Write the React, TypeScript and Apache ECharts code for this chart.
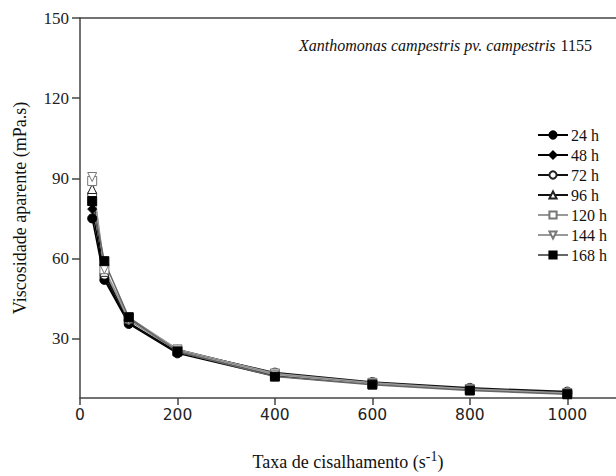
import React, { useEffect, useRef } from "react";
import * as echarts from "echarts";

const shearRates = [25, 50, 100, 200, 400, 600, 800, 1000];
const v24 = [75, 52, 35.5, 24.5, 16, 13, 11, 9.5];
const v48 = [78.5, 53, 36, 25, 16.5, 13.2, 11, 9.6];
const v72 = [84, 54, 37, 25.6, 17.3, 13.8, 11.6, 10.2];
const v96 = [86, 55, 37.5, 26, 17, 13.5, 11.3, 9.9];
const v120 = [89, 56, 38, 26, 17, 13.5, 11.2, 9.7];
const v144 = [90.5, 56, 37, 25.5, 16.5, 13, 11, 9.4];
const v168 = [81.5, 59, 38, 25.2, 15.8, 12.8, 10.6, 9.2];
const xTicks = [0, 200, 400, 600, 800, 1000];
const yTicks = [30, 60, 90, 120, 150];

const seriesDefs = [
  { name: "24 h", data: v24, symbol: "circle", fill: "#000", stroke: "#000", line: "#000" },
  { name: "48 h", data: v48, symbol: "diamond", fill: "#000", stroke: "#000", line: "#000" },
  { name: "72 h", data: v72, symbol: "circle", fill: "#fff", stroke: "#222", line: "#111" },
  { name: "96 h", data: v96, symbol: "triangle", fill: "#fff", stroke: "#222", line: "#111" },
  { name: "120 h", data: v120, symbol: "rect", fill: "#fff", stroke: "#777", line: "#999" },
  { name: "144 h", data: v144, symbol: "path://M0,0 L10,0 L5,10 Z", fill: "#fff", stroke: "#777", line: "#999" },
  { name: "168 h", data: v168, symbol: "rect", fill: "#000", stroke: "#000", line: "#666" },
];

const SERIF = "'Liberation Serif', 'Times New Roman', serif";

export default function App() {
  const ref = useRef<HTMLDivElement>(null);
  useEffect(() => {
    if (!ref.current) return;
    const chart = echarts.init(ref.current, null, { renderer: "svg" });
    const axisColor = "#444";
    chart.setOption({
      animation: false,
      backgroundColor: "#fff",
      grid: { left: 80, top: 18, right: -6, bottom: 74, containLabel: false },
      title: {
        text: "{i|Xanthomonas campestris pv. campestris} {n|1155}",
        right: 19,
        top: 31,
        textStyle: {
          fontWeight: "normal",
          rich: {
            i: { fontFamily: SERIF, fontStyle: "italic", fontWeight: "normal", fontSize: 16, color: "#111" },
            n: { fontFamily: SERIF, fontWeight: "normal", fontSize: 16, color: "#111" },
          },
        },
      },
      legend: {
        orient: "vertical",
        left: 532,
        top: 122,
        itemWidth: 30,
        itemHeight: 9,
        itemGap: 4,
        textStyle: { fontFamily: SERIF, fontSize: 16, color: "#111", lineHeight: 15, padding: [0, 0, 0, -2] },
        data: seriesDefs.map((s) => s.name),
      },
      xAxis: [
        {
          type: "value",
          min: 0,
          max: 1100,
          name: "{a|Taxa de cisalhamento (s}{s|-1}{a|)}",
          nameLocation: "middle",
          nameGap: 51,
          nameTextStyle: {
            rich: {
              a: { fontFamily: SERIF, fontSize: 18, color: "#111" },
              s: { fontFamily: SERIF, fontSize: 14, color: "#111", verticalAlign: "top", padding: [0, 0, 12, 0] },
            },
          },
          axisLine: { show: true, lineStyle: { color: axisColor, width: 1.5 } },
          axisTick: { show: true, length: 7, customValues: xTicks, lineStyle: { color: axisColor, width: 1.5 } },
          axisLabel: {
            customValues: xTicks,
            formatter: (v: number) => String(v),
            fontFamily: "'DejaVu Sans', sans-serif",
            fontSize: 15.5,
            color: "#222",
            margin: 9,
          },
          splitLine: { show: false },
        },
        {
          type: "value",
          position: "top",
          min: 0,
          max: 1100,
          axisLine: { show: true, lineStyle: { color: axisColor, width: 1.5 } },
          axisTick: { show: false },
          axisLabel: { show: false },
          splitLine: { show: false },
        },
      ],
      yAxis: {
        type: "value",
        min: 7.8,
        max: 150,
        name: "Viscosidade aparente (mPa.s)",
        nameLocation: "middle",
        nameGap: 51,
        nameTextStyle: { fontFamily: SERIF, fontSize: 18, color: "#111" },
        axisLine: { show: true, lineStyle: { color: axisColor, width: 1.5 } },
        axisTick: { show: true, length: 8, customValues: yTicks, lineStyle: { color: axisColor, width: 1.5 } },
        axisLabel: {
          customValues: yTicks,
          fontFamily: SERIF,
          fontSize: 17,
          color: "#222",
          margin: 11,
        },
        splitLine: { show: false },
      },
      series: seriesDefs.map((s) => ({
        name: s.name,
        type: "line",
        xAxisIndex: 0,
        data: shearRates.map((x, i) => [x, s.data[i]]),
        symbol: s.symbol,
        symbolSize: 9,
        showSymbol: true,
        lineStyle: { color: s.line, width: 1.5 },
        itemStyle: { color: s.fill, borderColor: s.stroke, borderWidth: 1 },
        emphasis: { disabled: true },
      })),
    });
    return () => chart.dispose();
  }, []);
  return (
    <div
      ref={ref}
      style={{ position: "absolute", left: 0, top: 0, width: 616, height: 476 }}
    />
  );
}
